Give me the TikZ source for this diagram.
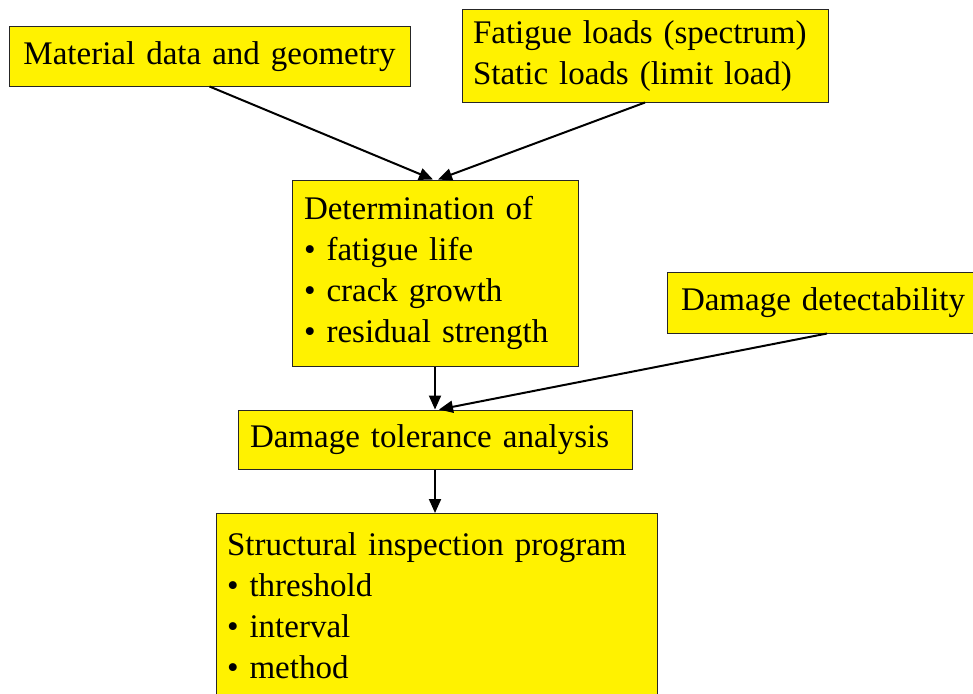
\documentclass[tikz,border=0pt]{standalone}
\usepackage{fontspec}
\setmainfont{Liberation Serif}
\usetikzlibrary{arrows.meta}

\begin{document}
\begin{tikzpicture}[x=1pt,y=-1pt,
    box/.style={draw=black!85, line width=1pt, fill=yellow, inner xsep=12pt, inner ysep=4pt,
      align=left, font=\fontsize{33}{41}\selectfont},
    flow/.style={line width=2pt, -{Triangle[length=14pt,width=12pt]}}]
      \useasboundingbox (0,0) rectangle (973,693);
      \clip (0,0) rectangle (973,693);

      \node [box, align=center, text width=377pt, minimum height=59pt] (mat) at (209.5,56.5) {Material data and geometry};
      \node [box, inner xsep=11pt, text width=344pt, minimum height=92pt] (loads) at (645,56) {Fatigue loads (spectrum)\\Static loads (limit load)};

      \node [box, text width=262pt, minimum height=186pt] (det) at (435,273)
        {Determination of\\\textbullet{} fatigue life\\\textbullet{} crack growth\\\textbullet{} residual strength};
      \node [box, inner xsep=14pt, text width=292pt, minimum height=61pt] (detect) at (827,302.5) {Damage detectability};

      \node [box, text width=370pt, minimum height=59pt] (dta) at (435,439.5) {Damage tolerance analysis};
      \node [box, inner xsep=11pt, inner ysep=19pt, anchor=north, text width=419pt] (sip) at (436.5,513)
        {Structural inspection program\\\textbullet{} threshold\\\textbullet{} interval\\\textbullet{} method};

      \draw [flow] (mat.south) -- ([xshift=-2pt]det.north);
      \draw [flow] (loads.south) -- ([xshift=3pt]det.north);
      \draw [flow] (det.south) -- (dta.north);
      \draw [flow] (detect.south) -- ([xshift=4pt]dta.north);
      \draw [flow] (dta.south) -- (dta.south |- sip.north);
\end{tikzpicture}
\end{document}
